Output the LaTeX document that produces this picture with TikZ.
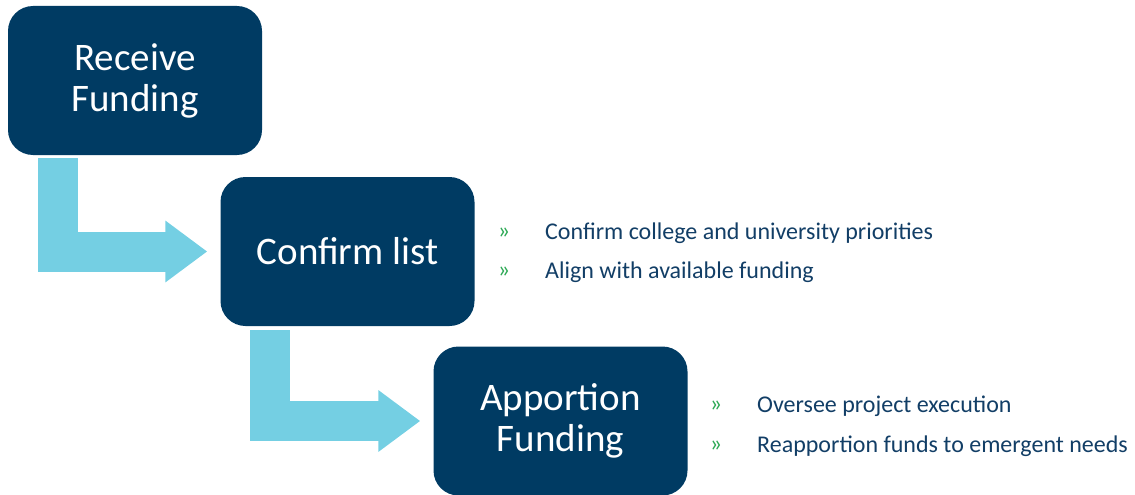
\documentclass[tikz,border=0pt]{standalone}
\usepackage{fontspec}
\setmainfont{Carlito}
\usetikzlibrary{arrows.meta}
\definecolor{boxblue}{RGB}{0,59,99}
\definecolor{flowblue}{RGB}{116,207,227}
\definecolor{textblue}{RGB}{18,62,102}
\definecolor{bulletgreen}{RGB}{44,168,84}
\begin{document}
\begin{tikzpicture}[x=1pt,y=-1pt,inner sep=0pt,
    stepbox/.style={fill=boxblue,rounded corners=25pt,minimum width=254pt,minimum height=149pt,
        text=white,align=center,font=\fontsize{39}{41}\selectfont},
    flow/.style={draw=flowblue,line width=40pt,line join=miter,shorten >=13pt,
        -{Triangle[width=59pt,length=42pt]}},
    bullet/.style={text=bulletgreen,font=\fontsize{24}{28}\selectfont},
    item/.style={anchor=west,text=textblue,font=\fontsize{24}{28}\selectfont}]
\useasboundingbox (0,0) rectangle (1135,495);
\draw (135, 80.5) node[stepbox](recv) {Receive\\Funding};
\draw (347.5, 251.5) node[stepbox](confirm) {Confirm list};
\draw (560.5, 421) node[stepbox](apportion) {Apportion\\Funding};
% block arrows between the steps
\draw[flow] ([xshift=50pt,yshift=-3pt]recv.south west) |- (confirm.west);
\draw[flow] ([xshift=50pt,yshift=-4pt]confirm.south west) |- (apportion.west);
% bullet lists
\draw (504, 233) node[bullet](b1) {»};
\draw (545, 233) node[item](t1) {Confirm college and university priorities};
\draw (504, 272) node[bullet](b2) {»};
\draw (545, 272) node[item](t2) {Align with available funding};
\draw (716, 406) node[bullet](b3) {»};
\draw (757, 406) node[item](t3) {Oversee project execution};
\draw (716, 446) node[bullet](b4) {»};
\draw (757, 446) node[item](t4) {Reapportion funds to emergent needs};
\end{tikzpicture}
\end{document}
